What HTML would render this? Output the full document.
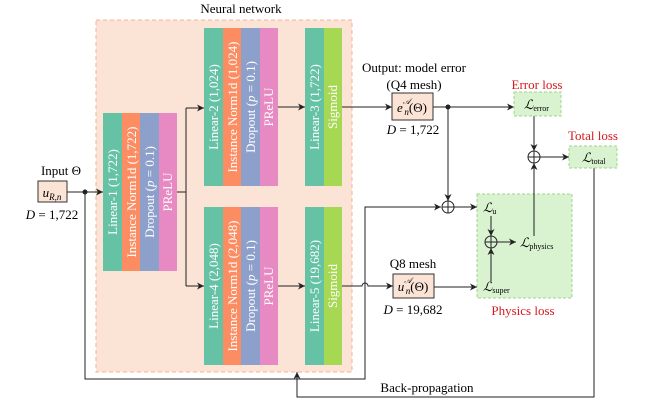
<!DOCTYPE html>
<html><head><meta charset="utf-8"><style>
body{margin:0;background:#fff}
text{font-family:"Liberation Serif","DejaVu Serif",serif}
</style></head><body>
<svg width="648" height="406" viewBox="0 0 648 406" xmlns="http://www.w3.org/2000/svg" font-family="Liberation Serif, serif">
<defs>
<marker id="a" markerWidth="8" markerHeight="8" refX="7" refY="4" orient="auto" markerUnits="userSpaceOnUse">
<path d="M0,0.5 L7,4 L0,7.5 L2,4 Z" fill="#222"/></marker>
</defs>
<text x="241" y="13" font-size="13" text-anchor="middle" font-family="Liberation Serif, serif">Neural network</text>
<rect x="96" y="20" width="256" height="352" fill="#fbe3d6" stroke="#f4b09a" stroke-dasharray="4,3"/>
<rect x="477" y="194" width="95" height="104" fill="#d9f2d0" stroke="#9fd48e" stroke-dasharray="3,2"/>
<g font-size="13" fill="#fff" text-anchor="middle" font-family="Liberation Serif, serif">
<rect x="103" y="113" width="19" height="158" fill="#66c2a5"/><rect x="122" y="113" width="18" height="158" fill="#fc8d62"/><rect x="140" y="113" width="19" height="158" fill="#8da0cb"/><rect x="159" y="113" width="18" height="158" fill="#e78ac3"/>
<text transform="translate(117,192) rotate(-90)">Linear-1 (1,722)</text>
<text transform="translate(136,192) rotate(-90)">Instance Norm1d (1,722)</text>
<text transform="translate(154,192) rotate(-90)">Dropout (<tspan font-style="italic">p</tspan> = 0.1)</text>
<text transform="translate(172,192) rotate(-90)">PReLU</text>
<rect x="204" y="28" width="19" height="158" fill="#66c2a5"/><rect x="223" y="28" width="18" height="158" fill="#fc8d62"/><rect x="241" y="28" width="19" height="158" fill="#8da0cb"/><rect x="260" y="28" width="18" height="158" fill="#e78ac3"/>
<text transform="translate(218,107) rotate(-90)">Linear-2 (1,024)</text>
<text transform="translate(237,107) rotate(-90)">Instance Norm1d (1,024)</text>
<text transform="translate(255,107) rotate(-90)">Dropout (<tspan font-style="italic">p</tspan> = 0.1)</text>
<text transform="translate(273,107) rotate(-90)">PReLU</text>
<rect x="204" y="207" width="19" height="158" fill="#66c2a5"/><rect x="223" y="207" width="18" height="158" fill="#fc8d62"/><rect x="241" y="207" width="19" height="158" fill="#8da0cb"/><rect x="260" y="207" width="18" height="158" fill="#e78ac3"/>
<text transform="translate(218,286) rotate(-90)">Linear-4 (2,048)</text>
<text transform="translate(237,286) rotate(-90)">Instance Norm1d (2,048)</text>
<text transform="translate(255,286) rotate(-90)">Dropout (<tspan font-style="italic">p</tspan> = 0.1)</text>
<text transform="translate(273,286) rotate(-90)">PReLU</text>
<rect x="305" y="28" width="19" height="158" fill="#66c2a5"/><rect x="324" y="28" width="18" height="158" fill="#a6d854"/>
<text transform="translate(319,107) rotate(-90)">Linear-3 (1,722)</text>
<text transform="translate(337,107) rotate(-90)">Sigmoid</text>
<rect x="305" y="207" width="19" height="158" fill="#66c2a5"/><rect x="324" y="207" width="18" height="158" fill="#a6d854"/>
<text transform="translate(319,286) rotate(-90)">Linear-5 (19,682)</text>
<text transform="translate(337,286) rotate(-90)">Sigmoid</text>
</g>
<g font-family="Liberation Serif, serif">
<text x="61" y="175" font-size="13" text-anchor="middle">Input Θ</text>
<rect x="38" y="181" width="29" height="21" fill="#fbe3d6" stroke="#333"/>
<text x="52" y="197" font-size="13" text-anchor="middle" font-style="italic">u<tspan font-size="9" dy="3">R,n</tspan></text>
<text x="52" y="219" font-size="13" text-anchor="middle"><tspan font-style="italic">D</tspan> = 1,722</text>
</g>
<g stroke="#222" stroke-width="1" fill="none">
<line x1="67" y1="192" x2="103" y2="192" marker-end="url(#a)"/>
<polyline points="177,192 186,192"/>
<line x1="186" y1="108" x2="186" y2="286"/>
<line x1="186" y1="108" x2="204" y2="108" marker-end="url(#a)"/>
<line x1="186" y1="286" x2="204" y2="286" marker-end="url(#a)"/>
<line x1="278" y1="107" x2="305" y2="107" marker-end="url(#a)"/>
<line x1="278" y1="286" x2="305" y2="286" marker-end="url(#a)"/>
<line x1="342" y1="107" x2="392" y2="107" marker-end="url(#a)"/>
<path d="M342,286 H362 A3,3 0 0 1 368,286 H393" marker-end="url(#a)"/>
<polyline points="85,192 85,379 365,379 365,207 441,207" marker-end="url(#a)"/>
<line x1="433" y1="107" x2="514" y2="107" marker-end="url(#a)"/>
<line x1="448" y1="107" x2="448" y2="201" marker-end="url(#a)"/>
<line x1="454" y1="207" x2="477" y2="207" marker-end="url(#a)"/>
<line x1="434" y1="287" x2="477" y2="287" marker-end="url(#a)"/>
<line x1="491" y1="216" x2="491" y2="236" marker-end="url(#a)"/>
<line x1="491" y1="281" x2="491" y2="248" marker-end="url(#a)"/>
<line x1="497" y1="242" x2="516" y2="242" marker-end="url(#a)"/>
<line x1="534" y1="116" x2="534" y2="151" marker-end="url(#a)"/>
<line x1="534" y1="236" x2="534" y2="163" marker-end="url(#a)"/>
<line x1="540" y1="157" x2="569" y2="157" marker-end="url(#a)"/>
<path d="M594,168 V397 H297 V372" marker-end="url(#a)"/>
<circle cx="448" cy="207" r="6"/><line x1="442" y1="207" x2="454" y2="207"/><line x1="448" y1="201" x2="448" y2="213"/>
<circle cx="491" cy="242" r="6"/><line x1="485" y1="242" x2="497" y2="242"/><line x1="491" y1="236" x2="491" y2="248"/>
<circle cx="534" cy="157" r="6"/><line x1="528" y1="157" x2="540" y2="157"/><line x1="534" y1="151" x2="534" y2="163"/>
</g>
<circle cx="85" cy="192" r="2.5" fill="#222"/>
<circle cx="448" cy="107" r="2.5" fill="#222"/>
<g font-family="Liberation Serif, serif">
<text x="414" y="72" font-size="13" text-anchor="middle">Output: model error</text>
<text x="414" y="89" font-size="13" text-anchor="middle">(Q4 mesh)</text>
<rect x="392" y="93" width="41" height="27" fill="#fbe3d6" stroke="#333"/>
<text x="412" y="112" font-size="13" text-anchor="middle"><tspan font-style="italic">e<tspan font-size="8" dy="-8">𝒜</tspan><tspan font-size="9" dx="-6" dy="11">n</tspan></tspan><tspan dy="-3">(Θ)</tspan></text>
<text x="413" y="134" font-size="13" text-anchor="middle"><tspan font-style="italic">D</tspan> = 1,722</text>
<text x="413" y="268" font-size="13" text-anchor="middle">Q8 mesh</text>
<rect x="393" y="274" width="41" height="24" fill="#fbe3d6" stroke="#333"/>
<text x="413" y="291" font-size="13" text-anchor="middle"><tspan font-style="italic">u<tspan font-size="8" dy="-8">𝒜</tspan><tspan font-size="9" dx="-6" dy="11">n</tspan></tspan><tspan dy="-3">(Θ)</tspan></text>
<text x="413" y="314" font-size="13" text-anchor="middle"><tspan font-style="italic">D</tspan> = 19,682</text>
<text x="537" y="89" font-size="13" fill="#d7191c" text-anchor="middle">Error loss</text>
<rect x="514" y="92" width="47" height="24" fill="#d9f2d0" stroke="#9fd48e" stroke-dasharray="3,2"/>
<text x="524" y="109" font-size="13" font-style="italic">ℒ<tspan font-size="8" font-style="normal" dy="2">error</tspan></text>
<text x="593" y="140" font-size="13" fill="#d7191c" text-anchor="middle">Total loss</text>
<rect x="569" y="146" width="48" height="22" fill="#d9f2d0" stroke="#9fd48e" stroke-dasharray="3,2"/>
<text x="582" y="162" font-size="13" font-style="italic">ℒ<tspan font-size="8" font-style="normal" dy="2">total</tspan></text>
<text x="483" y="212" font-size="13" font-style="italic">ℒ<tspan font-size="8" font-style="normal" dy="2">u</tspan></text>
<text x="520" y="247" font-size="13" font-style="italic">ℒ<tspan font-size="8" font-style="normal" dy="2">physics</tspan></text>
<text x="483" y="291" font-size="13" font-style="italic">ℒ<tspan font-size="8" font-style="normal" dy="2">super</tspan></text>
<text x="523" y="315" font-size="13" fill="#d7191c" text-anchor="middle">Physics loss</text>
<text x="427" y="392" font-size="13" text-anchor="middle">Back-propagation</text>
</g>
</svg>
</body></html>
